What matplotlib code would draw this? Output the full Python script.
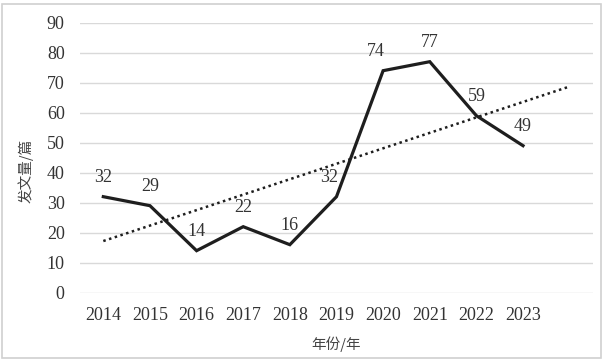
import matplotlib
matplotlib.use("Agg")
import matplotlib.pyplot as plt
from matplotlib.patches import Rectangle
import numpy as np

years = ["2014", "2015", "2016", "2017", "2018", "2019", "2020", "2021", "2022", "2023"]
papers = [32, 29, 14, 22, 16, 32, 74, 77, 59, 49]
yticks = [0, 10, 20, 30, 40, 50, 60, 70, 80, 90]

plt.rcParams['font.family'] = ['Liberation Serif', 'Noto Sans CJK SC']


def main():
    fig = plt.figure(figsize=(6.06, 3.63), dpi=100)
    ax = fig.add_axes([0.132, 0.1937, 0.8465, 0.7438])

    x = np.arange(len(years))
    ax.plot(x, papers, color="#1e1e1e", lw=2.3, solid_joinstyle="miter", zorder=3)

    # linear trend, forecast forward one period
    k, b = np.polyfit(x, papers, 1)
    xt = np.array([0, len(years)])
    ax.plot(xt, k * xt + b, color="#1e1e1e", lw=1.8, linestyle=(0, (1, 1.4)), zorder=2)

    for i, v in enumerate(papers):
        dx = -5 if i in (5, 6) else 0
        ax.annotate(str(v), (i, v), xytext=(dx, 14), textcoords="offset points",
                    ha="center", va="center", fontsize=13, color="#333333")

    ax.set_xlim(-0.5, len(years) + 0.5)
    ax.set_ylim(0, 90)
    ax.set_xticks(x)
    ax.set_xticklabels(years)
    ax.set_yticks(yticks)
    ax.tick_params(length=0, labelsize=13, colors="#333333")
    ax.tick_params(axis="y", pad=11)
    ax.tick_params(axis="x", pad=10)
    ax.grid(axis="y", color="#d9d9d9", lw=1)
    ax.set_axisbelow(True)
    for s in ax.spines.values():
        s.set_visible(False)

    ax.set_xlabel("年份/年", fontsize=10.5, color="#444444", labelpad=9,
                  family=["Noto Sans CJK SC"])
    fig.text(0.043, 0.53, "发文量/篇", rotation=90, fontsize=10.5, color="#444444",
             ha="center", va="center", family=["Noto Sans CJK SC"])

    fig.patches.append(Rectangle((0.004, 0.014), 0.988, 0.976, transform=fig.transFigure,
                                 fill=False, edgecolor="#d0d0d0", lw=1.2))

    fig.savefig("out.png", dpi=100)


if __name__ == "__main__":
    main()
